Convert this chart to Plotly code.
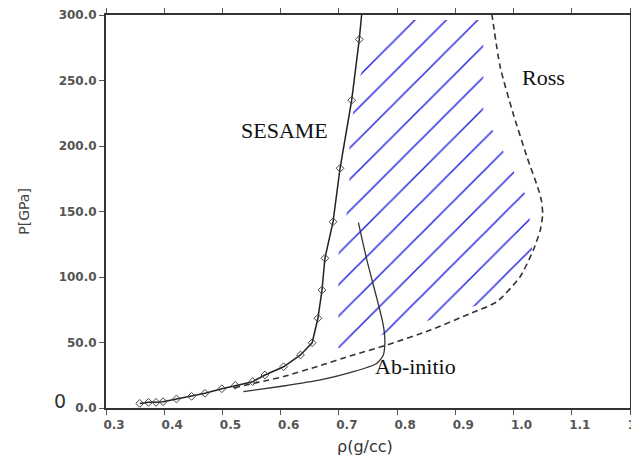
import plotly.graph_objects as go

# SESAME (solid line with open diamond markers)
SESAME_X = [0.358, 0.373, 0.386, 0.398, 0.421, 0.447, 0.470, 0.499, 0.522, 0.552, 0.573, 0.605,
            0.634, 0.654, 0.664, 0.671, 0.676, 0.690, 0.702, 0.722, 0.735, 0.739]
SESAME_Y = [3.5, 4.3, 4.3, 4.8, 6.9, 8.9, 11.2, 14.7, 17.3, 20.1, 25.2, 31.5,
            40.5, 49.8, 68.5, 90.0, 114.3, 142.2, 183.0, 235.0, 281.4, 300.0]

# Ross (dashed)
ROSS_X = [0.52, 0.55, 0.576, 0.605, 0.665, 0.725, 0.782, 0.857, 0.925, 0.971, 1.011, 1.034,
          1.046, 1.050, 1.048, 1.043, 1.023, 1.000, 0.977, 0.963]
ROSS_Y = [15.5, 18.5, 21.0, 24.0, 32.0, 40.5, 48.0, 59.5, 72.0, 81.0, 100.0, 120.6,
          136.0, 148.0, 158.0, 166.4, 191.8, 223.7, 260.5, 300.0]

# Ab-initio (thin solid)
AB_X = [0.536, 0.605, 0.668, 0.725, 0.765, 0.776, 0.779, 0.778, 0.775, 0.765, 0.748, 0.7335]
AB_Y = [12.5, 16.8, 21.4, 27.7, 34.0, 40.0, 49.0, 58.0, 66.0, 84.0, 113.0, 141.5]

# Hatched region outline
HATCH_X = [0.699, 0.699, 0.718, 0.718, 0.736, 0.757, 0.795, 0.948, 0.948, 1.025, 1.032, 0.939, 0.699]
HATCH_Y = [45.5, 116.8, 158.8, 209.9, 252.7, 278.6, 296.2, 296.2, 226.0, 158.8, 119.8, 78.6, 45.5]

X_TICKS = [0.3, 0.4, 0.5, 0.6, 0.7, 0.8, 0.9, 1.0, 1.1, 1.2]
Y_TICKS = [0, 50, 100, 150, 200, 250, 300]

LABELS = [("SESAME", 0.606, 212), ("Ross", 1.051, 252), ("Ab-initio", 0.831, 31.8)]

fig = go.Figure()

fig.add_trace(go.Scatter(
    x=HATCH_X, y=HATCH_Y, mode="none", fill="toself",
    fillcolor="rgba(0,0,0,0)",
    fillpattern=dict(shape="/", fgcolor="#2a2ae0", bgcolor="rgba(0,0,0,0)",
                     size=22.2, solidity=0.07, fillmode="replace"),
    hoverinfo="skip", showlegend=False))

fig.add_trace(go.Scatter(
    x=ROSS_X, y=ROSS_Y, mode="lines",
    line=dict(color="#333333", width=1.6, dash="6px,4px", shape="spline", smoothing=0.6),
    showlegend=False))

fig.add_trace(go.Scatter(
    x=AB_X, y=AB_Y, mode="lines",
    line=dict(color="#333333", width=1.3, shape="spline", smoothing=0.6),
    showlegend=False))

fig.add_trace(go.Scatter(
    x=SESAME_X, y=SESAME_Y, mode="lines",
    line=dict(color="#222222", width=1.5),
    showlegend=False))

fig.add_trace(go.Scatter(
    x=SESAME_X[:-1], y=SESAME_Y[:-1], mode="markers",
    marker=dict(symbol="diamond-open", size=6, color="#444444", line=dict(width=1)),
    showlegend=False))

annotations = []
for text, x, y in LABELS:
    annotations.append(dict(text=text, x=x, y=y, xref="x", yref="y", showarrow=False,
                            xanchor="center", yanchor="middle",
                            font=dict(family="Liberation Serif", size=22, color="#111111")))

annotations.append(dict(text="0", xref="paper", yref="y", x=-0.0887, y=0, yshift=7,
                        xanchor="center", yanchor="middle", showarrow=False,
                        font=dict(family="DejaVu Sans", size=19, color="#333333")))
annotations.append(dict(text="P[GPa]", xref="paper", yref="paper", x=-0.158, y=0.50,
                        xanchor="center", yanchor="middle",
                        textangle=-90, showarrow=False,
                        font=dict(family="DejaVu Sans", size=14, color="#444444")))
annotations.append(dict(text="ρ(g/cc)", xref="paper", yref="paper", x=0.494, y=-0.097,
                        xanchor="center", yanchor="middle", showarrow=False,
                        font=dict(family="DejaVu Sans", size=16, color="#333333")))

axis_common = dict(showline=True, linecolor="#333333", linewidth=2, mirror="allticks",
                   ticks="outside", ticklen=5, tickcolor="#555555", tickwidth=1,
                   showgrid=False, zeroline=False, automargin=False,
                   tickfont=dict(family="DejaVu Sans", size=12, color="#555555", weight="bold"))

# page body has an 8px default margin; margins compensate so the plot area lands
# at x 106..630, y 15..408 in the window
fig.update_layout(
    width=639, height=457,
    margin=dict(l=98, r=17, t=7, b=57, autoexpand=False),
    paper_bgcolor="white", plot_bgcolor="white",
    xaxis=dict(range=[0.3, 1.2], tickvals=X_TICKS, tickformat=".1f", ticklabelshift=8,
               ticklabeloverflow="allow", **axis_common),
    yaxis=dict(range=[0, 300], tickvals=Y_TICKS, tickformat=".1f", **axis_common),
    annotations=annotations,
)

fig.write_html("out.html")
